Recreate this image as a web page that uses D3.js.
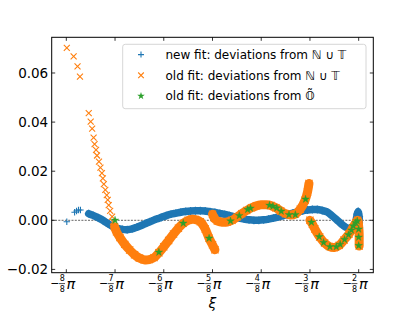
<!DOCTYPE html>
<html><head><meta charset="utf-8">
<script src="https://cdn.jsdelivr.net/npm/d3@7"></script>
<style>body{margin:0;background:#fff}svg{display:block}</style>
</head><body>
<svg id="c" width="415" height="312"></svg>
<script>
// x values are in units of π/8 (ξ = x·π/8)
const xTicks = [-8, -7, -6, -5, -4, -3, -2];
const xTickDen = 8;
const yTicks = [-0.02, 0, 0.02, 0.04, 0.06];
const yTickLabels = ["\u22120.02", "0.00", "0.02", "0.04", "0.06"];
const legendLabels = [
  "new fit: deviations from \u2115 \u222A \uD835\uDD4B",
  "old fit: deviations from \u2115 \u222A \uD835\uDD4B",
  "old fit: deviations from \uD835\uDD46\u0303"
];

// new fit: deviations from N ∪ T
const newSparse = [[-7.99,-0.0006],[-7.83,0.0033],[-7.79,0.0038],[-7.75,0.0042],[-7.71,0.0042]];
const newBand = [[-7.54,0.0027],[-7.45,0.0020],[-7.35,0.0011],[-7.25,0.0000],[-7.15,-0.0013],[-7.05,-0.0025],
  [-6.95,-0.0033],[-6.85,-0.0037],[-6.75,-0.0038],[-6.65,-0.0035],[-6.55,-0.0028],[-6.45,-0.0020],[-6.35,-0.0011],
  [-6.25,-0.0003],[-6.15,0.0005],[-6.05,0.0012],[-5.95,0.0019],[-5.85,0.0025],[-5.75,0.0029],[-5.65,0.0033],
  [-5.55,0.0036],[-5.45,0.0038],[-5.35,0.0039],[-5.25,0.0039],[-5.15,0.0038],[-5.05,0.0035],[-4.95,0.0032],
  [-4.85,0.0028],[-4.75,0.0024],[-4.65,0.0019],[-4.55,0.0014],[-4.45,0.0009],[-4.35,0.0005],[-4.25,0.0002],
  [-4.15,0.0000],[-4.05,0.0000],[-3.95,0.0002],[-3.85,0.0005],[-3.75,0.0009],[-3.65,0.0014],[-3.55,0.0019],
  [-3.45,0.0024],[-3.35,0.0029],[-3.25,0.0034],[-3.15,0.0039],[-3.05,0.0042],[-2.95,0.0044],[-2.85,0.0044],
  [-2.75,0.0040],[-2.65,0.0034],[-2.55,0.0019],[-2.45,0.0002],[-2.35,-0.0016],[-2.25,-0.0030],[-2.15,-0.0034],
  [-2.10,-0.0028],[-2.06,-0.0005],[-2.03,0.0025],[-2.01,0.0036],[-1.99,0.0015],[-1.99,-0.0010],[-1.99,-0.0030]];

// old fit: deviations from N ∪ T
const oldSparse = [[-7.99,0.0702],[-7.85,0.0668],[-7.77,0.0627],[-7.72,0.0585],[-7.54,0.0437],[-7.50,0.0402],
  [-7.47,0.0373],[-7.44,0.0337],[-7.42,0.0310],[-7.39,0.0287],[-7.37,0.0264],[-7.33,0.0239],[-7.30,0.0215],
  [-7.27,0.0192],[-7.25,0.0171],[-7.23,0.0147],[-7.20,0.0124],[-7.17,0.0103],[-7.15,0.0083],[-7.13,0.0062],
  [-7.10,0.0038],[-7.06,0.0015],[-7.04,-0.0006]];
const oldSeg1 = [[-7.01,-0.0026],[-6.97,-0.0047],[-6.90,-0.0070],[-6.80,-0.0098],[-6.70,-0.0121],[-6.60,-0.0140],
  [-6.50,-0.0154],[-6.40,-0.0161],[-6.30,-0.0160],[-6.20,-0.0152],[-6.10,-0.0132],[-6.00,-0.0108],[-5.90,-0.0082],
  [-5.80,-0.0056],[-5.70,-0.0032],[-5.60,-0.0012],[-5.50,0.0000],[-5.42,0.0004],[-5.35,0.0003],[-5.25,-0.0006],
  [-5.15,-0.0035],[-5.07,-0.0073],[-5.00,-0.0100],[-4.95,-0.0120]];
const oldSeg2 = [[-5.00,0.0025],[-4.96,0.0008],[-4.90,-0.0003],[-4.80,-0.0008],[-4.70,-0.0007],[-4.60,0.0000],
  [-4.50,0.0013],[-4.40,0.0027],[-4.30,0.0040],[-4.20,0.0051],[-4.10,0.0059],[-4.00,0.0063],[-3.90,0.0063],
  [-3.80,0.0060],[-3.70,0.0051],[-3.60,0.0038],[-3.50,0.0027],[-3.40,0.0022],[-3.30,0.0026],[-3.20,0.0045],
  [-3.10,0.0082],[-3.05,0.0115],[-3.02,0.0150]];
const oldSeg3 = [[-3.00,0.0000],[-2.95,-0.0016],[-2.90,-0.0035],[-2.80,-0.0068],[-2.70,-0.0092],[-2.60,-0.0107],
  [-2.50,-0.0111],[-2.40,-0.0102],[-2.30,-0.0080],[-2.20,-0.0056],[-2.12,-0.0030],[-2.06,-0.0010],[-2.02,0.0000],
  [-2.00,-0.0025],[-1.99,-0.0055],[-1.99,-0.0080],[-1.99,-0.0105]];

// old fit: deviations from Õ
const oldO = [[-7.00,0.0000],[-6.10,-0.0130],[-5.60,-0.0012],[-5.07,-0.0073],[-4.63,-0.0003],[-4.45,0.0019],
  [-4.28,0.0044],[-4.22,0.0049],[-3.83,0.0061],[-3.76,0.0057],[-3.68,0.0050],[-3.59,0.0037],[-3.43,0.0023],
  [-3.30,0.0023],[-3.09,0.0086],[-2.97,-0.0008],[-2.81,-0.0067],[-2.72,-0.0090],[-2.59,-0.0108],[-2.46,-0.0108],
  [-2.38,-0.0098],[-2.29,-0.0078],[-2.21,-0.0059],[-2.15,-0.0040],[-2.11,-0.0023],[-2.06,-0.0010],[-2.03,-0.0003],
  [-2.00,-0.0036],[-2.00,-0.0069],[-2.00,-0.0103]];

const C_BLUE = "#1f77b4", C_ORANGE = "#ff7f0e", C_GREEN = "#2ca02c";
const FONT = "'DejaVu Sans', sans-serif";

const svg = d3.select("#c");
const L = 51.7, R = 373.3, T = 37.3, B = 272.7;
const x = d3.scaleLinear().domain([-8.3, -1.7]).range([L, R]);
const y = d3.scaleLinear().domain([-0.02134, 0.07454]).range([B, T]);

const plot = svg.append("g");
// zero dashed line
plot.append("line").attr("x1", L).attr("x2", R).attr("y1", y(0)).attr("y2", y(0))
  .attr("stroke", "#222").attr("stroke-width", 0.7).attr("stroke-dasharray", "2,1.3");

const line = d3.line().x(d => x(d[0])).y(d => y(d[1])).curve(d3.curveCatmullRom.alpha(0.5));
const plusPath = (s) => `M${-s},0H${s}M0,${-s}V${s}`;
const xPath = (s) => `M${-s},${-s}L${s},${s}M${-s},${s}L${s},${-s}`;
const starSym = d3.symbol(d3.symbolStar).size(18)();

function band(data, color, w) {
  plot.append("path").attr("d", line(data)).attr("fill", "none").attr("stroke", color)
    .attr("stroke-width", w).attr("stroke-linecap", "round").attr("stroke-linejoin", "round");
}
function markers(data, pathStr, color, sw) {
  plot.append("g").selectAll("path").data(data).join("path")
    .attr("transform", d => `translate(${x(d[0])},${y(d[1])})`)
    .attr("d", pathStr).attr("fill", "none").attr("stroke", color).attr("stroke-width", sw);
}

// new fit (blue)
band(newBand, C_BLUE, 7.5);
markers(newBand, plusPath(3.9), C_BLUE, 1.1);
markers(newSparse, plusPath(3.2), C_BLUE, 1.1);

// old fit (orange)
[oldSeg1, oldSeg2, oldSeg3].forEach(s => { band(s, C_ORANGE, 9); markers(s, xPath(3.6), C_ORANGE, 1.1); });
markers(oldSparse, xPath(3), C_ORANGE, 1.1);

// old fit Õ (green stars)
plot.append("g").selectAll("path").data(oldO).join("path")
  .attr("transform", d => `translate(${x(d[0])},${y(d[1])})`)
  .attr("d", starSym).attr("fill", C_GREEN).attr("stroke", C_GREEN).attr("stroke-width", 0.4);

// spines
svg.append("rect").attr("x", L).attr("y", T).attr("width", R - L).attr("height", B - T)
  .attr("fill", "none").attr("stroke", "#000").attr("stroke-width", 1);

// ticks (inward, all four sides)
const tl = 3.5;
const tk = svg.append("g").attr("stroke", "#000").attr("stroke-width", 0.8);
xTicks.forEach(t => {
  tk.append("line").attr("x1", x(t)).attr("x2", x(t)).attr("y1", B).attr("y2", B - tl);
  tk.append("line").attr("x1", x(t)).attr("x2", x(t)).attr("y1", T).attr("y2", T + tl);
});
yTicks.forEach(v => {
  tk.append("line").attr("x1", L).attr("x2", L + tl).attr("y1", y(v)).attr("y2", y(v));
  tk.append("line").attr("x1", R).attr("x2", R - tl).attr("y1", y(v)).attr("y2", y(v));
});

// y tick labels
svg.append("g").selectAll("text").data(yTicks).join("text")
  .attr("x", L - 3.5).attr("y", d => y(d) + 5)
  .attr("text-anchor", "end").attr("font-family", FONT).attr("font-size", 13.5)
  .text((d, i) => yTickLabels[i]);

// x tick labels: −(n/8)π as one text element with positioned tspans
const xl = svg.append("g").attr("font-family", FONT);
xTicks.forEach(t => {
  const cx = x(t);
  const g = xl.append("g");
  const tx = g.append("text").attr("x", cx - 16).attr("y", 287).attr("font-size", 11);
  tx.append("tspan").attr("x", cx - 16).attr("y", 287).text("\u2212");
  tx.append("tspan").attr("x", cx - 6.6).attr("y", 280.6).attr("font-size", 8).text(String(Math.abs(t)));
  tx.append("tspan").attr("x", cx - 6.6).attr("y", 292.2).attr("font-size", 8).text(String(xTickDen));
  tx.append("tspan").attr("x", cx + 0.3).attr("y", 289.3).attr("font-size", 14.5)
    .attr("font-style", "italic").text("\u03C0");
  g.append("line").attr("x1", cx - 7.3).attr("x2", cx - 1.3).attr("y1", 283.6).attr("y2", 283.6)
    .attr("stroke", "#000").attr("stroke-width", 0.7);
});

// x axis label
svg.append("text").attr("x", (L + R) / 2).attr("y", 308).attr("text-anchor", "middle")
  .attr("font-family", FONT).attr("font-size", 14).attr("font-style", "italic").text("\u03BE");

// legend
const lg = svg.append("g");
lg.append("rect").attr("x", 122.7).attr("y", 44.3).attr("width", 243.3).attr("height", 64.4)
  .attr("rx", 2.5).attr("fill", "#fff").attr("fill-opacity", 0.8).attr("stroke", "#cccccc").attr("stroke-width", 0.8);
const rows = [54.6, 75.3, 96];
lg.append("path").attr("transform", `translate(141,${rows[0]})`).attr("d", plusPath(3)).attr("stroke", C_BLUE).attr("stroke-width", 1.1);
lg.append("path").attr("transform", `translate(141,${rows[1]})`).attr("d", xPath(2.8)).attr("stroke", C_ORANGE).attr("stroke-width", 1.1);
lg.append("path").attr("transform", `translate(141,${rows[2]})`).attr("d", starSym).attr("fill", C_GREEN);
legendLabels.forEach((s, i) => {
  lg.append("text").attr("x", 165.5).attr("y", rows[i] + 4.3).attr("font-family", FONT)
    .attr("font-size", 12).text(s);
});
</script>
</body></html>
